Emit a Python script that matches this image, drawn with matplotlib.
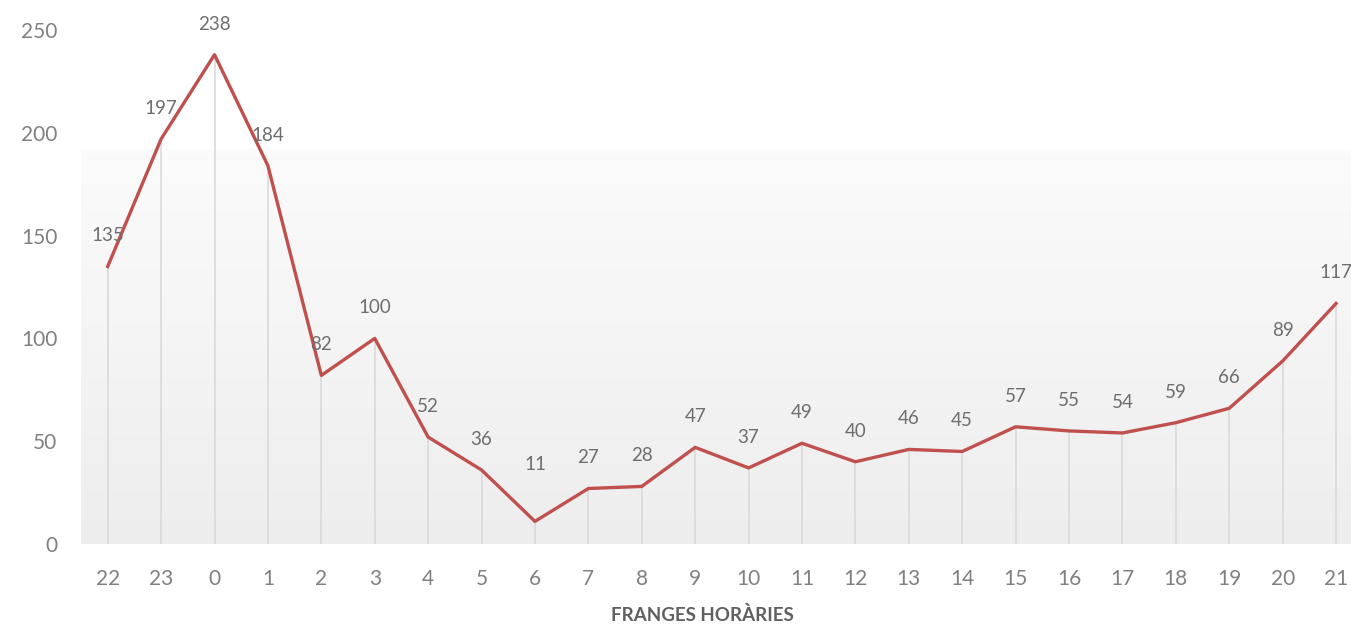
import matplotlib.pyplot as plt
import numpy as np

# Data
hours = ['22', '23', '0', '1', '2', '3', '4', '5', '6', '7', '8', '9',
         '10', '11', '12', '13', '14', '15', '16', '17', '18', '19', '20', '21']
values = [135, 197, 238, 184, 82, 100, 52, 36, 11, 27, 28, 47,
          37, 49, 40, 46, 45, 57, 55, 54, 59, 66, 89, 117]

plt.rcParams['font.family'] = ['Lato', 'DejaVu Sans']

fig = plt.figure(figsize=(13.51, 6.25), dpi=100)
ax = fig.add_axes([81 / 1351, 81 / 625, 1 - 81 / 1351, (544 - 30) / 625])

x = np.arange(len(hours))
ax.set_xlim(-0.5, 23.28)
ax.set_ylim(0, 250)

# soft grey gradient panel behind the lower part of the plot
grad = np.linspace(0.985, 0.93, 256).reshape(-1, 1)
ax.imshow(np.dstack([grad, grad, grad]), extent=(-0.5, 23.28, 0, 192),
          aspect='auto', origin='upper', zorder=0)

# drop lines from each point
ax.vlines(x, 0, values, color='#dadada', linewidth=1.2, zorder=1)

ax.plot(x, values, color='#c0504d', linewidth=2.4, zorder=3)

# data labels
for xi, v in zip(x, values):
    dy = 41 if v == 11 else 22
    ax.annotate(str(v), (xi, v), xytext=(0, dy), textcoords='offset points',
                ha='center', va='center', fontsize=13.5, color='#6e6e6e',
                annotation_clip=False, zorder=4)

ax.set_xticks(x)
ax.set_xticklabels(hours)
ax.set_yticks(range(0, 251, 50))
ax.tick_params(length=0, labelsize=15, labelcolor='#808080')
ax.tick_params(axis='x', pad=18)
ax.tick_params(axis='y', pad=17)

for s in ax.spines.values():
    s.set_visible(False)

ax.set_xlabel('FRANGES HORÀRIES', fontsize=13.5, fontweight='bold',
              color='#606060')
ax.xaxis.set_label_coords(0.489, -0.12)

fig.savefig('out.png', dpi=100)
